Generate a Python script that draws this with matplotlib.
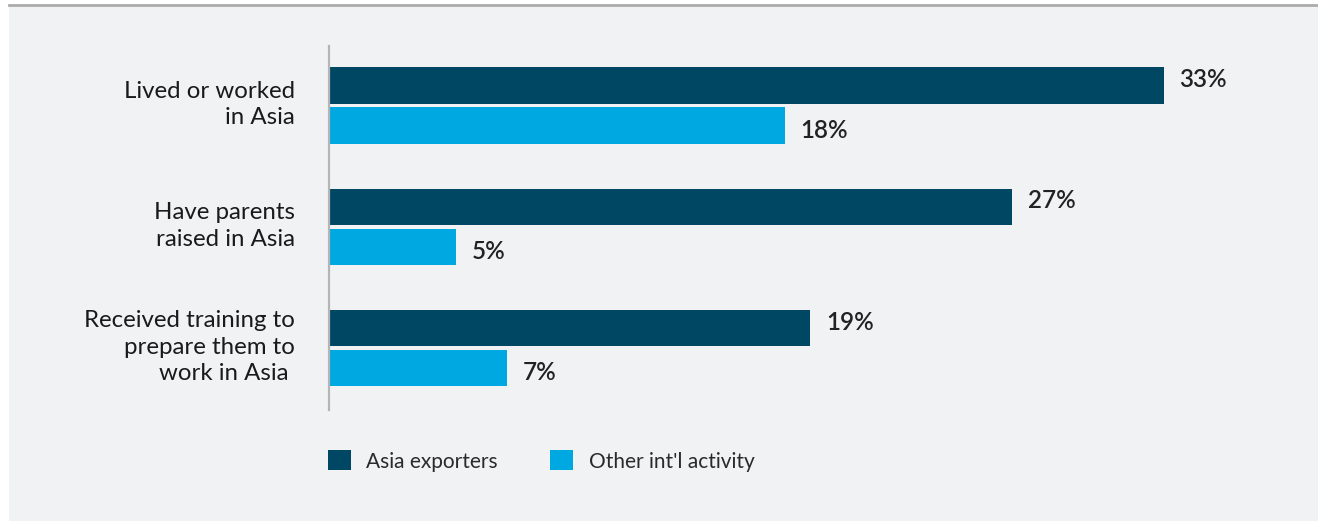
import matplotlib.pyplot as plt
import matplotlib.transforms as mtransforms
import numpy as np
from matplotlib.patches import Rectangle, Patch
from matplotlib.lines import Line2D

plt.rcParams['font.family'] = ['Lato', 'DejaVu Sans']

categories = ['Lived or worked\nin Asia', 'Have parents\nraised in Asia',
              'Received training to\nprepare them to\nwork in Asia ']
asia_exporters = [33, 27, 19]
other_intl = [18, 5, 7]
series_names = ['Asia exporters', "Other int'l activity"]

dark = '#004764'
light = '#00a8e1'
panel = '#f1f2f4'

fig = plt.figure(figsize=(13.18, 5.21), dpi=100, facecolor='white')

# grey panel and top rule
fig.patches.append(Rectangle((9 / 1318, 0), 1, 1 - 7 / 521, transform=fig.transFigure,
                             facecolor=panel, edgecolor='none', zorder=-5))
fig.lines.append(Line2D([9 / 1318, 1], [1 - 5 / 521, 1 - 5 / 521], transform=fig.transFigure,
                        color='#ababab', linewidth=2, zorder=-5))

ax = fig.add_axes([330 / 1318, 1 - 410 / 521, 960 / 1318, 364 / 521])
ax.set_facecolor('none')
ax.set_zorder(2)

y = np.arange(len(categories))
h = 0.30
off = 0.165
ax.barh(y - off, asia_exporters, height=h, color=dark)
ax.barh(y + off, other_intl, height=h, color=light)

for yi, v in zip(y - off, asia_exporters):
    ax.text(v + 0.63, yi - 0.05, f'{v}%', va='center', ha='left', fontsize=17.5,
            fontweight='semibold', color='#222222')
for yi, v in zip(y + off, other_intl):
    ax.text(v + 0.63, yi + 0.04, f'{v}%', va='center', ha='left', fontsize=17.5,
            fontweight='semibold', color='#222222')

ax.set_xlim(0, 38)
ax.set_ylim(2.51, -0.49)
ax.set_xticks([])
ax.set_yticks([])

# category labels, right-aligned left of the axis line
label_tr = mtransforms.blended_transform_factory(ax.transAxes, ax.transData) + \
    mtransforms.ScaledTranslation(-35 / 100, 1 / 100, fig.dpi_scale_trans)
for yi, cat in zip(y, categories):
    ax.text(0, yi, cat, transform=label_tr, ha='right', va='center', multialignment='right',
            fontsize=17.3, color='#1a1a1a', linespacing=1.34)

for s in ['top', 'right', 'bottom']:
    ax.spines[s].set_visible(False)
ax.spines['left'].set_color('#b5b5b5')
ax.spines['left'].set_linewidth(1.6)
ax.spines['left'].set_position(('outward', 1))

handles = [Patch(facecolor=dark, label=series_names[0]),
           Patch(facecolor=light, label=series_names[1])]
leg = fig.legend(handles=handles, loc='center left', bbox_to_anchor=(309 / 1318, 1 - 461 / 521),
                 ncol=2, frameon=False, handlelength=1.1, handleheight=1.1,
                 handletextpad=0.75, columnspacing=2.5,
                 prop={'size': 15})
for t in leg.get_texts():
    t.set_color('#2a2a2a')

fig.savefig('out.png', dpi=100, facecolor=fig.get_facecolor())
